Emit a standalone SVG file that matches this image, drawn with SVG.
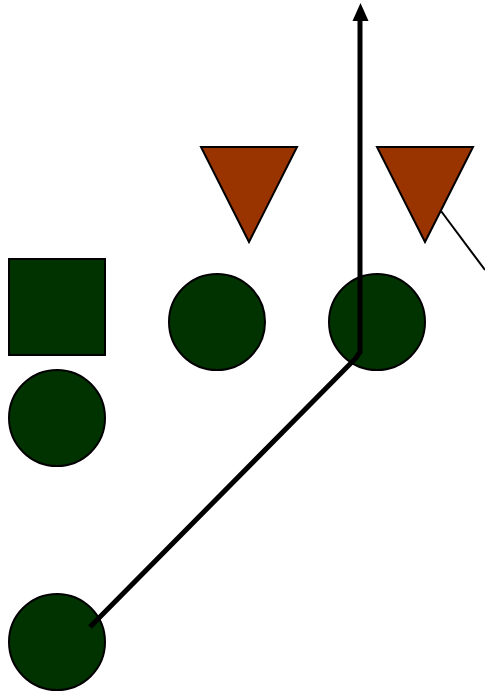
<svg xmlns="http://www.w3.org/2000/svg" width="485" height="692" viewBox="0 0 485 692">
<style>
.p{fill:#003300;stroke:#000;stroke-width:2}
.d{fill:#993300;stroke:#000;stroke-width:2}
</style>
<rect width="485" height="692" fill="#fff"/>
<g id="sq"><rect class="p" x="9" y="259" width="96" height="96"/></g>
<g id="c1"><circle class="p" cx="217" cy="322" r="48"/></g>
<g id="c2"><circle class="p" cx="377" cy="322" r="48"/></g>
<g id="c3"><circle class="p" cx="57" cy="418" r="48"/></g>
<g id="c4"><circle class="p" cx="57" cy="642" r="48"/></g>
<g id="t1"><polygon class="d" points="201,147 297,147 249,242"/></g>
<g id="t2"><polygon class="d" points="377,147 473,147 425,242"/></g>
<g id="connectors" fill="none" stroke="#000">
<path d="M90,627 L356,358 L360,352 L360,20" stroke-width="5"/>
<polygon points="352.5,21 368.5,21 360.5,3" fill="#000" stroke="none"/>
<path d="M441,211 L485,270" stroke-width="2"/>
</g>
</svg>
